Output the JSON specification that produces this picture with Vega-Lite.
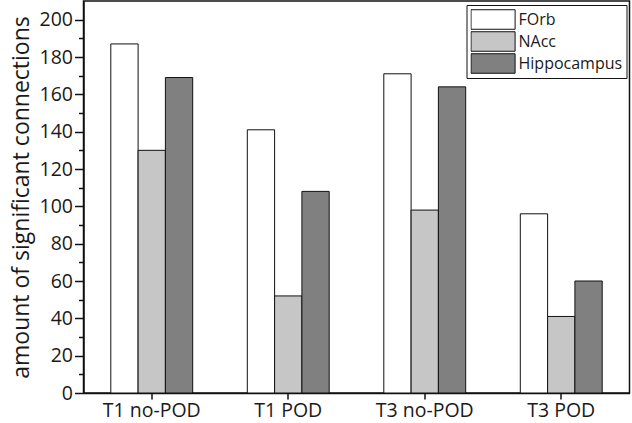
{
  "$schema": "https://vega.github.io/schema/vega-lite/v6.json",
  "width": 546,
  "height": 392,
  "autosize": "none",
  "padding": {"left": 83.5, "top": 1, "right": 2.5, "bottom": 30},
  "data": {
    "values": [
      {"group": "T1 no-POD", "region": "FOrb", "value": 187},
      {"group": "T1 no-POD", "region": "NAcc", "value": 130},
      {"group": "T1 no-POD", "region": "Hippocampus", "value": 169},
      {"group": "T1 POD", "region": "FOrb", "value": 141},
      {"group": "T1 POD", "region": "NAcc", "value": 52},
      {"group": "T1 POD", "region": "Hippocampus", "value": 108},
      {"group": "T3 no-POD", "region": "FOrb", "value": 171},
      {"group": "T3 no-POD", "region": "NAcc", "value": 98},
      {"group": "T3 no-POD", "region": "Hippocampus", "value": 164},
      {"group": "T3 POD", "region": "FOrb", "value": 96},
      {"group": "T3 POD", "region": "NAcc", "value": 41},
      {"group": "T3 POD", "region": "Hippocampus", "value": 60}
    ]
  },
  "mark": {"type": "bar", "stroke": "#111111", "strokeWidth": 1},
  "encoding": {
    "x": {
      "field": "group",
      "type": "nominal",
      "sort": ["T1 no-POD", "T1 POD", "T3 no-POD", "T3 POD"],
      "scale": {"paddingInner": 0.4, "paddingOuter": 0.2},
      "axis": {
        "title": null,
        "labelAngle": 0,
        "labelFont": "Open Sans",
        "labelFontSize": 19.5,
        "labelColor": "#1a1a1a",
        "labelPadding": 2,
        "tickSize": 6,
        "tickColor": "#111111",
        "tickWidth": 1.5,
        "domainColor": "#111111",
        "domainWidth": 1.5
      }
    },
    "xOffset": {"field": "region", "sort": ["FOrb", "NAcc", "Hippocampus"]},
    "y": {
      "field": "value",
      "type": "quantitative",
      "scale": {"domain": [0, 210], "nice": false},
      "axis": {
        "title": "amount of significant connections",
        "titleFont": "Open Sans",
        "titleFontSize": 23,
        "titleFontWeight": "normal",
        "titleColor": "#1a1a1a",
        "titlePadding": 6,
        "values": [0, 10, 20, 30, 40, 50, 60, 70, 80, 90, 100, 110, 120, 130, 140, 150, 160, 170, 180, 190, 200],
        "labelExpr": "datum.value % 20 === 0 ? datum.label : ''",
        "labelFont": "Open Sans",
        "labelFontSize": 19.5,
        "labelColor": "#1a1a1a",
        "labelPadding": 2,
        "tickSize": {"condition": {"test": "datum.value % 20 === 0", "value": 9}, "value": 5},
        "tickColor": "#111111",
        "tickWidth": 1.5,
        "domainColor": "#111111",
        "domainWidth": 1.5,
        "grid": false
      }
    },
    "fill": {
      "field": "region",
      "type": "nominal",
      "scale": {"domain": ["FOrb", "NAcc", "Hippocampus"], "range": ["#ffffff", "#c6c6c6", "#808080"]},
      "legend": {
        "title": null,
        "orient": "none",
        "legendX": 383,
        "legendY": 4,
        "strokeColor": "#111111",
        "fillColor": "#ffffff",
        "padding": 4,
        "symbolType": "M-1,-0.93H3.2V0.93H-1Z",
        "symbolSize": 441,
        "symbolStrokeColor": "#111111",
        "symbolStrokeWidth": 1,
        "symbolOpacity": 1,
        "labelFont": "Open Sans",
        "labelFontSize": 16,
        "labelColor": "#1a1a1a",
        "labelOffset": 26,
        "clipHeight": 21,
        "rowPadding": 1
      }
    }
  },
  "config": {"view": {"stroke": "#111111", "strokeWidth": 1.5}}
}
